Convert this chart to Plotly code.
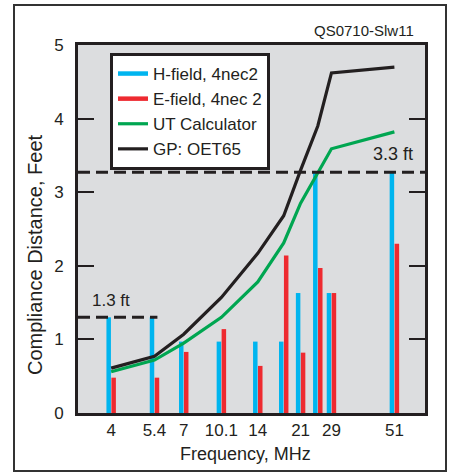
import plotly.graph_objects as go

# ---- data ----
band_freq = [3.6, 5.4, 7.1, 10.1, 14.2, 18.1, 21.2, 24.9, 28.3, 51.0]   # MHz (band centres)
h_field = [1.30, 1.30, 0.97, 0.97, 0.97, 0.97, 1.63, 3.26, 1.63, 3.26]
e_field = [0.48, 0.48, 0.83, 1.14, 0.64, 2.14, 0.82, 1.97, 1.63, 2.30]
ut_calc = [0.56, 0.72, 0.95, 1.30, 1.78, 2.31, 2.85, 3.27, 3.59, 3.82]
gp_oet65 = [0.61, 0.77, 1.07, 1.57, 2.17, 2.68, 3.30, 3.90, 4.62, 4.70]

tick_freq = [3.6, 5.4, 7.1, 10.1, 14.2, 21.2, 28.3, 51.0]
tick_text = ["4", "5.4", "7", "10.1", "14", "21", "29", "51"]

limit_low = 1.3      # ft, lower bands
limit_low_upto = 5.55
limit_high = 3.27    # ft, labelled 3.3 ft

# ---- styles ----
BLUE = "#00b5ef"
RED = "#ee2a30"
GREEN = "#00a651"
BLACK = "#231f20"
FONT = "Liberation Sans, Arial, sans-serif"

W, H = 450, 474
L, R, T, B = 78, 25, 45, 61
PW, PH = W - L - R, H - T - B


def px(xp):
    return (xp - L) / PW


def py(yp):
    return (H - B - yp) / PH


x_lo_log, x_hi_log = 0.4215, 1.832
x_lo, x_hi = 10 ** x_lo_log, 10 ** x_hi_log
pair_off = 1.0235  # multiplicative offset so paired bars sit side by side on log axis


def bar_segments(xs, ys, factor):
    bx, by = [], []
    for x, y in zip(xs, ys):
        bx += [x * factor, x * factor, None]
        by += [0, y, None]
    return bx, by


fig = go.Figure()

hx, hy = bar_segments(band_freq, h_field, 1 / pair_off)
ex, ey = bar_segments(band_freq, e_field, pair_off)

fig.add_trace(go.Scatter(x=hx, y=hy, mode="lines", name="H-field, 4nec2",
                         line=dict(color=BLUE, width=4.5)))
fig.add_trace(go.Scatter(x=ex, y=ey, mode="lines", name="E-field, 4nec 2",
                         line=dict(color=RED, width=4.5)))
fig.add_trace(go.Scatter(x=band_freq, y=ut_calc, mode="lines", name="UT Calculator",
                         line=dict(color=GREEN, width=3.2)))
fig.add_trace(go.Scatter(x=band_freq, y=gp_oet65, mode="lines", name="GP: OET65",
                         line=dict(color=BLACK, width=3.2)))

# dashed compliance limits
fig.add_trace(go.Scatter(x=[x_lo, limit_low_upto], y=[limit_low, limit_low], mode="lines",
                         showlegend=False, line=dict(color=BLACK, width=3, dash="12px,6px")))
fig.add_trace(go.Scatter(x=[x_lo, x_hi], y=[limit_high, limit_high], mode="lines",
                         showlegend=False, line=dict(color=BLACK, width=3, dash="12px,6px")))

fig.update_layout(
    width=W, height=H,
    margin=dict(l=L, r=R, t=T, b=B),
    paper_bgcolor="white",
    plot_bgcolor="#dcdddf",
    font=dict(family=FONT, size=17, color=BLACK),
    showlegend=True,
    legend=dict(
        x=px(110), y=py(53), xanchor="left", yanchor="top",
        bgcolor="white", bordercolor=BLACK, borderwidth=3,
        font=dict(family=FONT, size=17, color=BLACK),
        itemwidth=30, tracegroupgap=0,
    ),
    xaxis=dict(
        type="log", range=[x_lo_log, x_hi_log],
        tickmode="array", tickvals=tick_freq, ticktext=tick_text,
        ticks="", showgrid=False, zeroline=False,
        showline=True, mirror=True, linewidth=3, linecolor=BLACK,
        tickfont=dict(size=17),
    ),
    yaxis=dict(
        range=[0, 5], dtick=1, tick0=0,
        ticks="inside", ticklen=16, tickwidth=1.5, tickcolor=BLACK,
        showgrid=False, zeroline=False,
        showline=True, mirror="allticks", linewidth=3, linecolor=BLACK,
        tickfont=dict(size=17), ticklabelstandoff=8,
    ),
    shapes=[dict(type="rect", xref="paper", yref="paper",
                 x0=px(14), x1=px(446), y0=py(471), y1=py(5),
                 line=dict(color="#333333", width=2), fillcolor="rgba(0,0,0,0)",
                 layer="below")],
    annotations=[
        dict(text="Frequency, MHz", xref="paper", yref="paper",
             x=px(245), y=py(454), xanchor="center", yanchor="middle", showarrow=False,
             font=dict(size=18, color=BLACK)),
        dict(text="Compliance Distance, Feet", xref="paper", yref="paper", textangle=-90,
             x=px(35), y=py(255), xanchor="center", yanchor="middle", showarrow=False,
             font=dict(size=20, color=BLACK)),
        dict(text="QS0710-Slw11", xref="paper", yref="paper",
             x=px(364), y=py(31), xanchor="center", yanchor="middle", showarrow=False,
             font=dict(size=15, color=BLACK)),
        dict(text="1.3 ft", xref="paper", yref="y",
             x=px(111), y=limit_low, xanchor="center", yanchor="middle", yshift=17,
             showarrow=False, font=dict(size=17, color=BLACK)),
        dict(text="3.3 ft", xref="paper", yref="y",
             x=px(393), y=limit_high, xanchor="center", yanchor="middle", yshift=18,
             showarrow=False, font=dict(size=18, color=BLACK)),
    ],
)

fig.write_html("out.html", config={"displayModeBar": False},
               post_script="document.body.style.margin='0';")
